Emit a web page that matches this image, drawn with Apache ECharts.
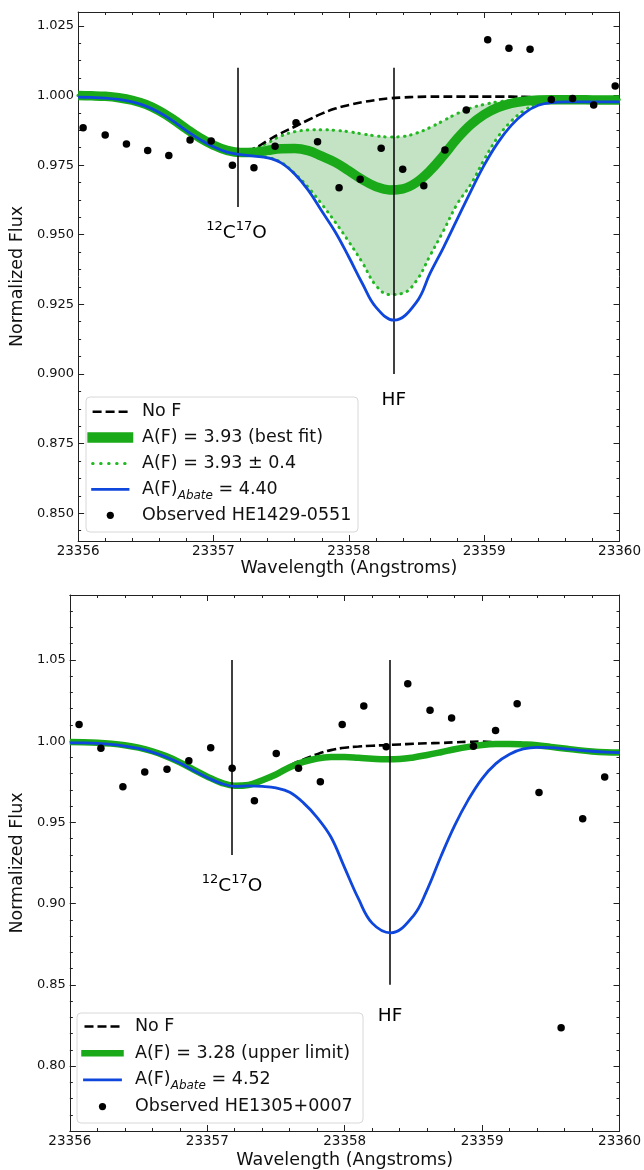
<!DOCTYPE html>
<html>
<head>
<meta charset="utf-8">
<script src="https://cdn.jsdelivr.net/npm/echarts@6/dist/echarts.min.js"></script>
<style>
  html, body { margin: 0; padding: 0; background: #fff; }
  #chart { width: 644px; height: 1170px; }
</style>
</head>
<body>
<div id="chart"></div>
<script>
// ---- data ----
// model spectra sampled every 0.1 A
const modelWave = [
  23356.0, 23356.1, 23356.2, 23356.3, 23356.4, 23356.5, 23356.6, 23356.7, 23356.8, 23356.9,
  23357.0, 23357.1, 23357.2, 23357.3, 23357.4, 23357.5, 23357.6, 23357.7, 23357.8, 23357.9,
  23358.0, 23358.1, 23358.2, 23358.3, 23358.4, 23358.5, 23358.6, 23358.7, 23358.8, 23358.9,
  23359.0, 23359.1, 23359.2, 23359.3, 23359.4, 23359.5, 23359.6, 23359.7, 23359.8, 23359.9,
  23360.0
];
// the Abate curves are read at their line-centre minimum instead of 23358.3 / 23358.4
const abateWave = [
  23356.0, 23356.1, 23356.2, 23356.3, 23356.4, 23356.5, 23356.6, 23356.7, 23356.8, 23356.9,
  23357.0, 23357.1, 23357.2, 23357.3, 23357.4, 23357.5, 23357.6, 23357.7, 23357.8, 23357.9,
  23358.0, 23358.1, 23358.2, 23358.335, 23358.5, 23358.6, 23358.7, 23358.8, 23358.9,
  23359.0, 23359.1, 23359.2, 23359.3, 23359.4, 23359.5, 23359.6, 23359.7, 23359.8, 23359.9,
  23360.0
];

// top panel: HE1429-0551
const topNoF = [
  1.0000, 0.9999, 0.9997, 0.9992, 0.9983, 0.9968, 0.9945, 0.9915, 0.9880, 0.9848,
  0.9822, 0.9803, 0.9797, 0.9810, 0.9838, 0.9865, 0.9888, 0.9912, 0.9935, 0.9953,
  0.9966, 0.9976, 0.9984, 0.9990, 0.9993, 0.9995, 0.9996, 0.9996, 0.9996, 0.9996,
  0.9996, 0.9996, 0.9996, 0.9995, 0.9993, 0.9992, 0.9992, 0.9992, 0.9992, 0.9992,
  0.9992
];
const topBest = [
  1.0000, 0.9999, 0.9997, 0.9992, 0.9983, 0.9968, 0.9945, 0.9915, 0.9880, 0.9848,
  0.9822, 0.9803, 0.9795, 0.9796, 0.9803, 0.9809, 0.9810, 0.9802, 0.9782, 0.9760,
  0.9730, 0.9698, 0.9673, 0.9661, 0.9665, 0.9688, 0.9730, 0.9785, 0.9845, 0.9895,
  0.9932, 0.9957, 0.9972, 0.9980, 0.9984, 0.9985, 0.9985, 0.9985, 0.9984, 0.9984,
  0.9984
];
const topUpper = [
  1.0000, 0.9999, 0.9997, 0.9992, 0.9983, 0.9968, 0.9945, 0.9915, 0.9880, 0.9848,
  0.9822, 0.9803, 0.9797, 0.9808, 0.9830, 0.9855, 0.9870, 0.9876, 0.9877, 0.9875,
  0.9870, 0.9862, 0.9855, 0.9851, 0.9853, 0.9865, 0.9885, 0.9910, 0.9935, 0.9955,
  0.9968, 0.9977, 0.9982, 0.9985, 0.9986, 0.9986, 0.9986, 0.9986, 0.9986, 0.9986,
  0.9986
];
const topLower = [
  1.0000, 0.9999, 0.9997, 0.9992, 0.9983, 0.9968, 0.9945, 0.9915, 0.9880, 0.9848,
  0.9822, 0.9803, 0.9790, 0.9785, 0.9778, 0.9760, 0.9720, 0.9670, 0.9610, 0.9545,
  0.9475, 0.9400, 0.9318, 0.9285, 0.9290, 0.9335, 0.9425, 0.9515, 0.9610, 0.9680,
  0.9770, 0.9850, 0.9908, 0.9948, 0.9972, 0.9980, 0.9982, 0.9982, 0.9982, 0.9982,
  0.9982
];
const topAbate = [
  0.9994, 0.9993, 0.9991, 0.9986, 0.9977, 0.9962, 0.9939, 0.9909, 0.9874, 0.9842,
  0.9816, 0.9797, 0.9788, 0.9782, 0.9776, 0.9758, 0.9718, 0.9660, 0.9585, 0.9510,
  0.9420, 0.9325, 0.9240, 0.9193, 0.9258, 0.9361, 0.9455, 0.9555, 0.9655,
  0.9750, 0.9830, 0.9893, 0.9938, 0.9965, 0.9975, 0.9977, 0.9977, 0.9977, 0.9977,
  0.9977
];
const topObsWave = [
  23356.037, 23356.200, 23356.357, 23356.514, 23356.670, 23356.827, 23356.983, 23357.140,
  23357.299, 23357.455, 23357.610, 23357.769, 23357.928, 23358.084, 23358.239, 23358.398,
  23358.554, 23358.710, 23358.868, 23359.026, 23359.183, 23359.339, 23359.496, 23359.653,
  23359.809, 23359.968
];
const topObsFlux = [
  0.9884, 0.9858, 0.9826, 0.9803, 0.9785, 0.9840, 0.9837, 0.9750,
  0.9741, 0.9818, 0.9902, 0.9834, 0.9669, 0.9699, 0.9811, 0.9735,
  0.9676, 0.9804, 0.9948, 1.0200, 1.0170, 1.0166, 0.9986, 0.9989,
  0.9966, 1.0034
];

// bottom panel: HE1305+0007
const botNoF = [
  0.9995, 0.9994, 0.9991, 0.9985, 0.9975, 0.9960, 0.9938, 0.9908, 0.9870, 0.9825,
  0.9782, 0.9745, 0.9725, 0.9730, 0.9760, 0.9800, 0.9850, 0.9888, 0.9920, 0.9945,
  0.9960, 0.9967, 0.9972, 0.9976, 0.9980, 0.9984, 0.9987, 0.9989, 0.9993, 0.9996,
  0.9998, 0.9993, 0.9987, 0.9982, 0.9977, 0.9967, 0.9957, 0.9947, 0.9939, 0.9934,
  0.9932
];
const botUpperLimit = [
  0.9995, 0.9994, 0.9991, 0.9985, 0.9975, 0.9960, 0.9938, 0.9908, 0.9870, 0.9825,
  0.9782, 0.9745, 0.9725, 0.9730, 0.9760, 0.9795, 0.9840, 0.9872, 0.9893, 0.9902,
  0.9903, 0.9898, 0.9892, 0.9888, 0.9890, 0.9900, 0.9915, 0.9932, 0.9950, 0.9965,
  0.9976, 0.9982, 0.9983, 0.9980, 0.9975, 0.9965, 0.9955, 0.9945, 0.9937, 0.9932,
  0.9930
];
const botAbate = [
  0.9990, 0.9989, 0.9986, 0.9980, 0.9970, 0.9955, 0.9933, 0.9903, 0.9865, 0.9820,
  0.9777, 0.9740, 0.9722, 0.9725, 0.9722, 0.9712, 0.9685, 0.9620, 0.9530, 0.9410,
  0.9220, 0.9030, 0.8880, 0.8820, 0.8925, 0.9085, 0.9290, 0.9480, 0.9640,
  0.9770, 0.9862, 0.9920, 0.9952, 0.9962, 0.9960, 0.9953, 0.9945, 0.9938, 0.9933,
  0.9930
];
const botObsWave = [
  23356.067, 23356.226, 23356.386, 23356.545, 23356.707, 23356.866, 23357.025, 23357.181,
  23357.343, 23357.502, 23357.664, 23357.823, 23357.982, 23358.139, 23358.302, 23358.459,
  23358.621, 23358.778, 23358.937, 23359.098, 23359.255, 23359.414, 23359.575, 23359.732,
  23359.892
];
const botObsFlux = [
  1.0102, 0.9956, 0.9719, 0.9811, 0.9827, 0.9879, 0.9959, 0.9833,
  0.9634, 0.9924, 0.9833, 0.9750, 1.0102, 1.0217, 0.9965, 1.0354,
  1.0190, 1.0143, 0.9969, 1.0065, 1.0231, 0.9684, 0.8236, 0.9522,
  0.9780
];

// line identifications
const lineIdWave = [23357.18, 23358.33];
const topLineTop = [1.010, 1.010];
const topLineBottom = [0.960, 0.900];
const botLineTop = [1.050, 1.050];
const botLineBottom = [0.930, 0.850];
const lineIdText = ['{sup|12}{base|C}{sup|17}{base|O}', '{base|HF}'];
const topLabelWave = [23357.17, 23358.333];
const topLabelFlux = [0.9505, 0.8906];
const botLabelWave = [23357.18, 23358.33];
const botLabelFlux = [0.9109, 0.8306];

// axes
const topYTicks = [0.850, 0.875, 0.900, 0.925, 0.950, 0.975, 1.000, 1.025];
const botYTicks = [0.80, 0.85, 0.90, 0.95, 1.00, 1.05];

// legends
const topLegendText = [
  'No F',
  'A(F) = 3.93 (best fit)',
  'A(F) = 3.93 ± 0.4',
  '{t|A(F)}{s|Abate}{t| = 4.40}',
  'Observed HE1429-0551'
];
const botLegendText = [
  'No F',
  'A(F) = 3.28 (upper limit)',
  '{t|A(F)}{s|Abate}{t| = 4.52}',
  'Observed HE1305+0007'
];

// ---- styling ----
const FONT = 'DejaVu Sans';
const INK = '#111';
const GREEN = '#19a919';
const GREEN_DOT = '#22b822';
const FILL = '#c4e2c4';
const BLUE = '#0f46dc';
const DOTS = [0.5, 6];

function minorValues(lo, hi, step) {
  const out = [];
  const k0 = Math.ceil(lo / step - 1e-6);
  const k1 = Math.floor(hi / step + 1e-6);
  for (let k = k0; k <= k1; k++) out.push(+(k * step).toFixed(6));
  return out;
}

function pairs(xs, ys) {
  return xs.map((x, i) => [x, ys[i]]);
}

function curve(xi, yi, xs, ys, color, width, type, z, cap) {
  return {
    type: 'line', xAxisIndex: xi, yAxisIndex: yi,
    data: pairs(xs, ys),
    smooth: 0.4, showSymbol: false, symbol: 'none', silent: true, z: z,
    lineStyle: { color: color, width: width, type: type, cap: cap || 'butt' }
  };
}

// shaded region between two model curves
function band(xi, yi, upper, lower) {
  return {
    type: 'custom', xAxisIndex: xi, yAxisIndex: yi, silent: true, z: 1,
    data: [[modelWave[20], upper[20]]],
    renderItem: (params, api) => {
      const top = modelWave.map((w, i) => api.coord([w, upper[i]]));
      const bot = modelWave.map((w, i) => api.coord([w, lower[i]])).reverse();
      return {
        type: 'polygon',
        shape: { points: top.concat(bot), smooth: 0.35 },
        style: { fill: FILL }
      };
    }
  };
}

function xAxes(grid) {
  const base = {
    gridIndex: grid, type: 'value', min: 23356, max: 23360, interval: 1,
    axisLine: { show: true, onZero: false, lineStyle: { color: '#222', width: 1 } },
    axisTick: { show: true, inside: true, length: 6, lineStyle: { color: '#222' } },
    minorTick: { show: true, splitNumber: 5, length: 3, lineStyle: { color: '#222' } },
    splitLine: { show: false }
  };
  return [
    Object.assign({}, base, {
      position: 'bottom',
      axisLabel: {
        margin: 3, fontSize: 13.5, fontFamily: FONT, color: INK,
        formatter: v => String(v), showMinLabel: true, showMaxLabel: true
      },
      name: 'Wavelength (Angstroms)', nameLocation: 'middle', nameGap: grid === 0 ? 18 : 20,
      nameTextStyle: { fontSize: 17.5, fontFamily: FONT, color: INK }
    }),
    Object.assign({}, base, { position: 'top', axisLabel: { show: false } })
  ];
}

function yAxes(grid, min, max, major, minorStep, digits, gap) {
  const minor = minorValues(min, max, minorStep);
  const base = {
    gridIndex: grid, type: 'value', min: min, max: max,
    splitLine: { show: false }, axisLabel: { show: false }
  };
  const line = { show: true, onZero: false, lineStyle: { color: '#222', width: 1 } };
  return [
    Object.assign({}, base, {
      position: 'left', axisLine: line,
      axisTick: { show: true, inside: true, length: 6, customValues: major, lineStyle: { color: '#222' } },
      axisLabel: {
        show: true, customValues: major, margin: 4, fontSize: 13, fontFamily: FONT, color: INK,
        formatter: v => v.toFixed(digits)
      },
      name: 'Normalized Flux', nameLocation: 'middle', nameGap: gap,
      nameTextStyle: { fontSize: 17.5, fontFamily: FONT, color: INK }
    }),
    Object.assign({}, base, {
      position: 'left', axisLine: { show: false },
      axisTick: { show: true, inside: true, length: 3, customValues: minor, lineStyle: { color: '#222' } }
    }),
    Object.assign({}, base, {
      position: 'right', axisLine: line,
      axisTick: { show: true, inside: true, length: 6, customValues: major, lineStyle: { color: '#222' } }
    }),
    Object.assign({}, base, {
      position: 'right', axisLine: { show: false },
      axisTick: { show: true, inside: true, length: 3, customValues: minor, lineStyle: { color: '#222' } }
    })
  ];
}

function observed(xi, yi, xs, ys) {
  return {
    type: 'scatter', xAxisIndex: xi, yAxisIndex: yi, data: pairs(xs, ys),
    symbolSize: 7.5, itemStyle: { color: '#000', opacity: 1 }, silent: true, z: 10
  };
}

function lineIds(xi, yi, tops, bottoms, lx, ly) {
  return {
    type: 'scatter', xAxisIndex: xi, yAxisIndex: yi, silent: true, z: 8,
    symbolSize: 1, itemStyle: { color: 'rgba(255,255,255,0)' },
    data: lx.map((x, i) => ({ value: [x, ly[i]], text: lineIdText[i] })),
    label: {
      show: true, position: 'inside', color: '#000', opacity: 1,
      textBorderWidth: 0, textShadowBlur: 0,
      formatter: p => p.data.text,
      rich: {
        base: { fontSize: 18.5, fontFamily: FONT, color: '#000', lineHeight: 26 },
        sup: { fontSize: 13, fontFamily: FONT, color: '#000', lineHeight: 13, verticalAlign: 'top' }
      }
    },
    markLine: {
      silent: true, symbol: 'none', label: { show: false },
      lineStyle: { color: '#000', width: 1.5, type: 'solid', opacity: 1 },
      data: lineIdWave.map((w, i) => [{ coord: [w, tops[i]] }, { coord: [w, bottoms[i]] }])
    }
  };
}

// legend drawn as graphic: box, handle, text
function legend(box, handleX, textX, rowY, rowStep, texts, handles) {
  const els = [{
    type: 'rect', z: 100,
    shape: { x: box[0], y: box[1], width: box[2], height: box[3], r: 4 },
    style: { fill: 'rgba(255,255,255,0.85)', stroke: '#d8d8d8', lineWidth: 1 }
  }];
  texts.forEach((t, i) => {
    const y = rowY + i * rowStep;
    const h = handles[i];
    if (h.dot) {
      els.push({ type: 'circle', z: 101, shape: { cx: (handleX[0] + handleX[1]) / 2, cy: y, r: 3.6 },
        style: { fill: '#000' } });
    } else {
      els.push({ type: 'line', z: 101,
        shape: { x1: handleX[0], y1: y, x2: handleX[1], y2: y },
        style: { stroke: h.color, lineWidth: h.width, lineDash: h.dash || null, lineCap: h.cap || 'butt' } });
    }
    els.push({ type: 'text', z: 101, x: textX, y: y,
      style: {
        text: t, fill: INK, fontSize: 17.5, fontFamily: FONT, verticalAlign: 'middle', align: 'left',
        rich: {
          t: { fontSize: 17.5, fontFamily: FONT, fill: INK, lineHeight: 24 },
          s: { fontSize: 12, fontFamily: FONT, fontStyle: 'italic', fill: INK, lineHeight: 12, verticalAlign: 'bottom' }
        }
      } });
  });
  return els;
}

const chart = echarts.init(document.getElementById('chart'), null, { renderer: 'canvas' });

const option = {
  animation: false,
  backgroundColor: '#fff',
  grid: [
    { left: 76, top: 12, width: 545, height: 529 },
    { left: 68, top: 595, width: 553, height: 537 }
  ],
  xAxis: xAxes(0).concat(xAxes(1)),
  yAxis: yAxes(0, 0.840, 1.030, topYTicks, 0.00625, 3, 44)
    .concat(yAxes(1, 0.760, 1.090, botYTicks, 0.01, 2, 36)),
  series: [
    // top
    band(0, 0, topUpper, topLower),
    curve(0, 0, modelWave, topUpper, GREEN_DOT, 3, DOTS, 2, 'round'),
    curve(0, 0, modelWave, topLower, GREEN_DOT, 3, DOTS, 2, 'round'),
    curve(0, 0, modelWave, topNoF, '#000', 2.6, [9, 4], 3),
    curve(0, 0, modelWave, topBest, GREEN, 9.5, 'solid', 4),
    curve(0, 0, abateWave, topAbate, BLUE, 2.8, 'solid', 5),
    lineIds(0, 0, topLineTop, topLineBottom, topLabelWave, topLabelFlux),
    observed(0, 0, topObsWave, topObsFlux),

    // bottom
    curve(2, 4, modelWave, botNoF, '#000', 2.6, [9, 4], 3),
    curve(2, 4, modelWave, botUpperLimit, GREEN, 6.5, 'solid', 4),
    curve(2, 4, abateWave, botAbate, BLUE, 2.8, 'solid', 5),
    lineIds(2, 4, botLineTop, botLineBottom, botLabelWave, botLabelFlux),
    observed(2, 4, botObsWave, botObsFlux)
  ],
  graphic: legend([86, 397, 272, 135], [92.6, 128], 142, 411.7, 25.9, topLegendText, [
    { color: '#000', width: 2.6, dash: [9, 4] },
    { color: GREEN, width: 10.5, cap: 'square' },
    { color: GREEN_DOT, width: 3, dash: [0.5, 7.5], cap: 'round' },
    { color: BLUE, width: 2.8, cap: 'square' },
    { dot: true }
  ]).concat(legend([77, 1013, 286, 110], [84.5, 120.5], 135, 1026.5, 26.7, botLegendText, [
    { color: '#000', width: 2.6, dash: [9, 4] },
    { color: GREEN, width: 6.5, cap: 'square' },
    { color: BLUE, width: 2.8, cap: 'square' },
    { dot: true }
  ]))
};

chart.setOption(option);
</script>
</body>
</html>
